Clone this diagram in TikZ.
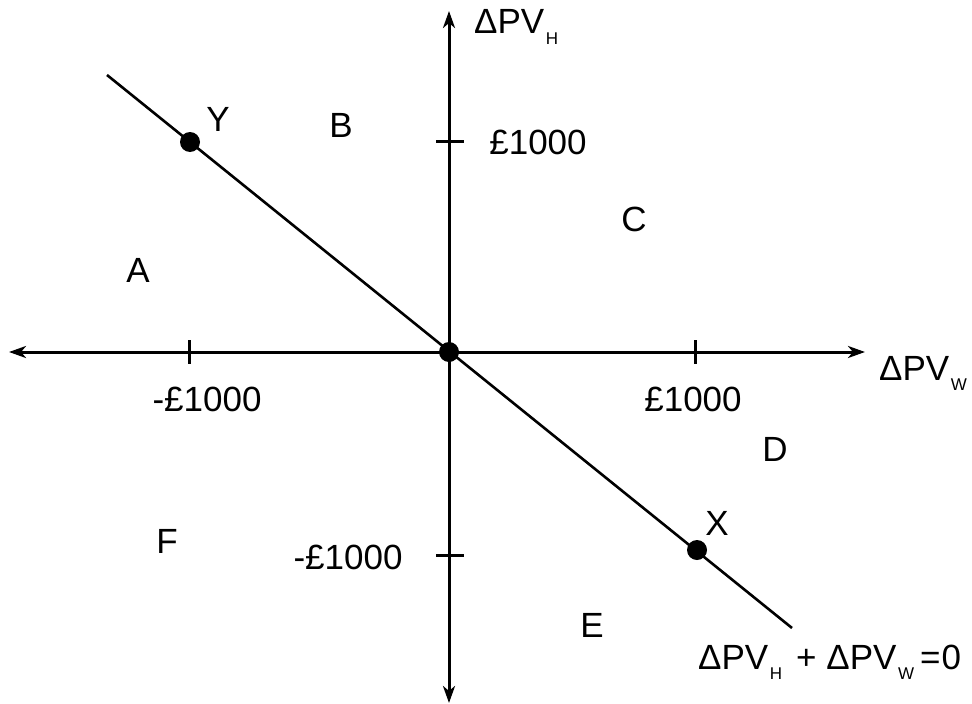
\documentclass[tikz,border=0pt]{standalone}
\usepackage{fontspec}
\setmainfont{Liberation Sans}
\usetikzlibrary{arrows.meta}
\newcommand{\subtxt}[1]{\kern1.5pt\raisebox{-10pt}{\fontsize{17}{17}\selectfont #1}}
\tikzset{
  axis/.style={line width=3pt,{Stealth[length=17pt,width=12pt,inset=5pt]}-{Stealth[length=17pt,width=12pt,inset=5pt]}},
  tick/.style={line width=3pt},
  diag/.style={line width=2.6pt},
  dot/.style={circle,fill=black,inner sep=0pt,minimum size=20pt},
  lbl/.style={inner sep=0pt,font=\fontsize{35}{35}\selectfont,anchor=base},
}
\begin{document}
\begin{tikzpicture}[x=1pt,y=-1pt]
\useasboundingbox (0,0) rectangle (972,704);
% axes
\coordinate (xl) at (9,352);
\coordinate (xr) at (865,352);
\coordinate (yt) at (449,11);
\coordinate (yb) at (449,703);
\draw[axis] (xl) -- (xr);
\draw[axis] (yb) -- (yt);
% ticks
\coordinate (t1a) at (189,340); \coordinate (t1b) at (189,364);
\coordinate (t2a) at (695,340); \coordinate (t2b) at (695,364);
\coordinate (t3a) at (436,141); \coordinate (t3b) at (464,141);
\coordinate (t4a) at (436,555); \coordinate (t4b) at (464,555);
\draw[tick] (t1a) -- (t1b);
\draw[tick] (t2a) -- (t2b);
\draw[tick] (t3a) -- (t3b);
\draw[tick] (t4a) -- (t4b);
% diagonal line
\coordinate (ds) at (107,75);
\coordinate (de) at (792,628);
\draw[diag] (ds) -- (de);
% dots
\node[dot] (Yd) at (190,142) {};
\node[dot] (Od) at (449,352) {};
\node[dot] (Xd) at (697,550) {};
% labels
\node[lbl] (Y) at (218,131) {Y};
\node[lbl] (X) at (717,535) {X};
\node[lbl] (A) at (138,282) {A};
\node[lbl] (B) at (341,137) {B};
\node[lbl] (C) at (634,231) {C};
\node[lbl] (D) at (775,461) {D};
\node[lbl] (E) at (592,637) {E};
\node[lbl] (F) at (167,553) {F};
\node[lbl] (p1) at (538,154) {£1000};
\node[lbl] (m1) at (207,411) {-£1000};
\node[lbl] (p2) at (693,411) {£1000};
\node[lbl] (m2) at (348,569) {-£1000};
\node[lbl,anchor=base west] (pvh) at (474,34) {ΔPV\subtxt{H}};
\node[lbl,anchor=base west] (pvw) at (879,380) {ΔPV\subtxt{W}};
\node[lbl,anchor=base west] (eq) at (698,669) {ΔPV\subtxt{H}\hspace{14pt}+\hspace{10pt}ΔPV\subtxt{W}\hspace{6pt}=\hspace{1pt}0};
\end{tikzpicture}
\end{document}
